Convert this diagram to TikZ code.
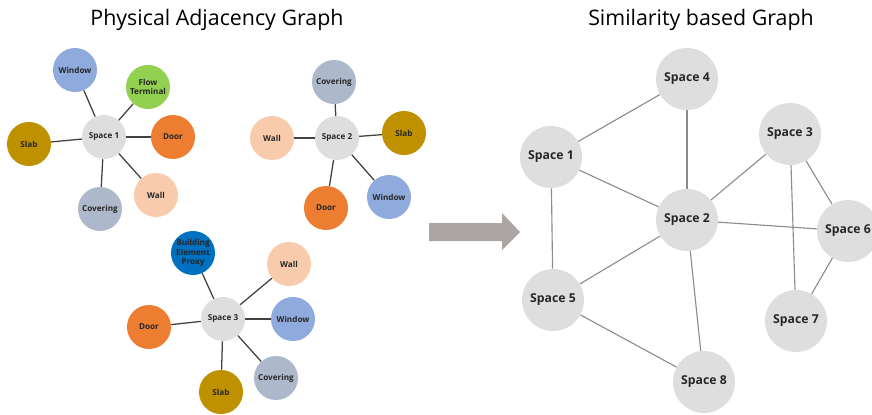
\documentclass[tikz,border=0pt]{standalone}
\usepackage{fontspec}
\setmainfont{Open Sans}
\definecolor{spacegray}{HTML}{DEDEDE}
\definecolor{windowblue}{HTML}{8FAADC}
\definecolor{flowgreen}{HTML}{92D050}
\definecolor{doororange}{HTML}{ED7D31}
\definecolor{slabgold}{HTML}{BF9000}
\definecolor{wallpeach}{HTML}{F8CBAD}
\definecolor{covergray}{HTML}{ADB9CA}
\definecolor{proxyblue}{HTML}{0070C0}
\definecolor{arrowgray}{HTML}{ABA6A4}
\begin{document}
\begin{tikzpicture}[x=0.025cm,y=-0.025cm,
  elem/.style={circle,minimum size=1.1cm,inner sep=0pt,align=center,font=\fontsize{5.8}{6.5}\selectfont\bfseries,text=black!85},
  space/.style={circle,minimum size=1.55cm,inner sep=0pt,fill=spacegray,font=\fontsize{8.7}{10}\selectfont\bfseries,text=black!85},
  adj/.style={line width=0.9pt,color=black!75},
  sim/.style={line width=0.8pt,color=black!45}]
\useasboundingbox (0,0) rectangle (872,414);
\node [font=\fontsize{15.2}{17}\selectfont] (titleleft) at (217,20) {Physical Adjacency Graph};
\node [font=\fontsize{15.2}{17}\selectfont] (titleright) at (701,20) {Similarity based Graph};
% space 1
\node [elem,fill=spacegray] (s1) at (104,137) {Space 1};
\node [elem,fill=windowblue] (s1win) at (75,70) {Window};
\node [elem,fill=flowgreen] (s1flow) at (148,87) {Flow\\Terminal};
\node [elem,fill=doororange] (s1door) at (173,137) {Door};
\node [elem,fill=slabgold] (s1slab) at (29,144) {Slab};
\node [elem,fill=wallpeach] (s1wall) at (156,195) {Wall};
\node [elem,fill=covergray] (s1cov) at (100,209) {Covering};
\foreach \n in {s1win,s1flow,s1door,s1slab,s1wall,s1cov}
  \draw [adj] (s1) -- (\n);
% space 2
\node [elem,fill=spacegray] (s2) at (337,138) {Space 2};
\node [elem,fill=covergray] (s2cov) at (334,82) {Covering};
\node [elem,fill=wallpeach] (s2wall) at (272,138) {Wall};
\node [elem,fill=slabgold] (s2slab) at (404,133) {Slab};
\node [elem,fill=windowblue] (s2win) at (389,197) {Window};
\node [elem,fill=doororange] (s2door) at (326,208) {Door};
\foreach \n in {s2cov,s2wall,s2slab,s2win,s2door}
  \draw [adj] (s2) -- (\n);
% space 3
\node [elem,fill=spacegray] (s3) at (223,319) {Space 3};
\node [elem,fill=proxyblue] (s3prox) at (193,253) {Building\\Element\\Proxy};
\node [elem,fill=wallpeach] (s3wall) at (289,264) {Wall};
\node [elem,fill=windowblue] (s3win) at (293,319) {Window};
\node [elem,fill=doororange] (s3door) at (149,327) {Door};
\node [elem,fill=covergray] (s3cov) at (276,378) {Covering};
\node [elem,fill=slabgold] (s3slab) at (221,392) {Slab};
\foreach \n in {s3prox,s3wall,s3win,s3door,s3cov,s3slab}
  \draw [adj] (s3) -- (\n);
% arrow
\fill [arrowgray] (429,223) -- (502,223) -- (502,213) -- (520,232) -- (502,250) -- (502,241) -- (429,241) -- cycle;
% similarity graph
\node [space] (g4) at (687,79) {Space 4};
\node [space] (g1) at (551,157) {Space 1};
\node [space] (g3) at (790,134) {Space 3};
\node [space] (g2) at (687,220) {Space 2};
\node [space] (g6) at (848,231) {Space 6};
\node [space] (g5) at (553,300) {Space 5};
\node [space] (g7) at (796,321) {Space 7};
\node [space] (g8) at (704,382) {Space 8};
\foreach \a/\b in {g4/g1,g4/g2,g1/g2,g1/g5,g2/g3,g2/g6,g2/g5,g2/g8,g5/g8,g3/g6,g3/g7,g6/g7}
  \draw [sim] (\a) -- (\b);
\end{tikzpicture}
\end{document}
